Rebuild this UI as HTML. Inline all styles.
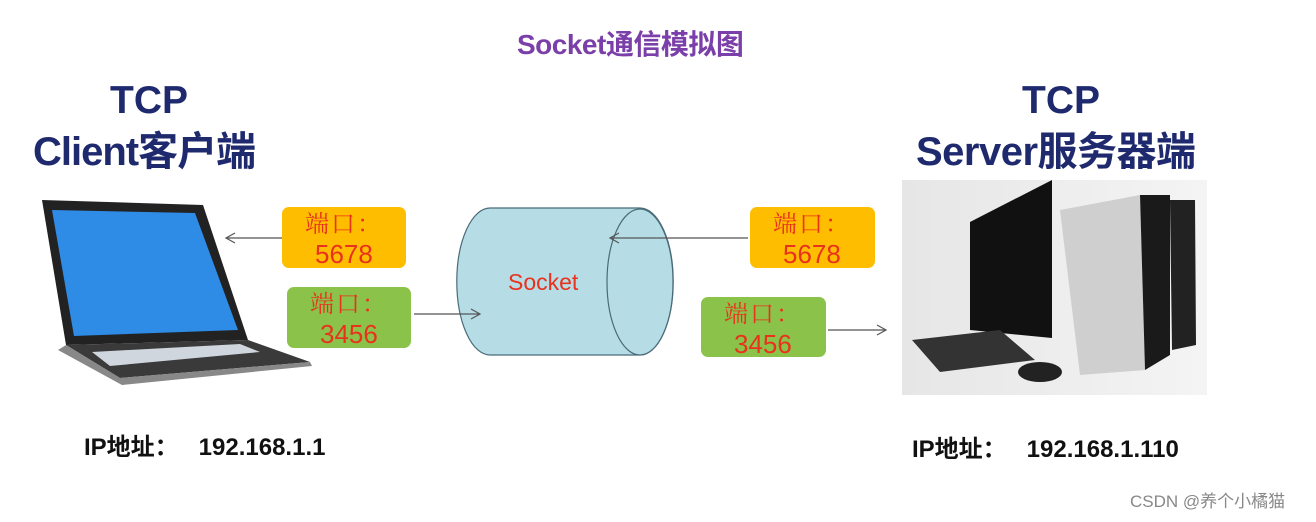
<!DOCTYPE html>
<html><head><meta charset="utf-8"><style>
body{margin:0;width:1316px;height:522px;background:#fff;overflow:hidden;position:relative;font-family:"Liberation Sans","Noto Sans CJK SC",sans-serif}
.t{position:absolute;white-space:nowrap;line-height:1.15}
.p{font-size:24px;color:#e8321e;font-family:'Noto Serif CJK SC',serif;letter-spacing:2px}
</style></head><body>
<svg width="1316" height="522" style="position:absolute;left:0;top:0">
<defs>
<linearGradient id="sv" x1="0" x2="1"><stop offset="0" stop-color="#e6e6e6"/><stop offset="1" stop-color="#f4f4f4"/></linearGradient>
<marker id="a" markerWidth="12" markerHeight="12" refX="10" refY="6" orient="auto" markerUnits="userSpaceOnUse"><path d="M1,1 L10,6 L1,11" fill="none" stroke="#555" stroke-width="1.2"/></marker>
</defs>
<polygon points="42,200 203,205 248,340 66,345" fill="#222"/>
<polygon points="52,210 195,213 238,330 74,336" fill="#2e8be6"/>
<polygon points="66,345 248,340 310,362 120,378" fill="#3a3a3a"/>
<polygon points="92,352 240,344 260,352 110,366" fill="#cfd6de"/>
<polygon points="58,350 66,345 120,378 310,362 312,366 122,385" fill="#888"/>
<path d="M490,208 L640,208 A33,73 0 0 1 640,355 L490,355 A33,73 0 0 1 490,208 Z" fill="#b6dde6" stroke="#4a6b78" stroke-width="1.2"/>
<ellipse cx="640" cy="282" rx="33" ry="73" fill="#b6dde6" stroke="#4a6b78" stroke-width="1.2"/>
<rect x="902" y="180" width="305" height="215" fill="url(#sv)"/>
<polygon points="970,222 1052,180 1052,338 970,330" fill="#111"/>
<polygon points="1060,210 1140,195 1145,370 1080,375" fill="#cfcfcf"/>
<polygon points="1140,195 1170,195 1170,355 1145,370" fill="#1a1a1a"/>
<polygon points="1170,200 1195,200 1196,345 1172,350" fill="#222"/>
<polygon points="912,340 1000,330 1035,360 940,372" fill="#333"/>
<ellipse cx="1040" cy="372" rx="22" ry="10" fill="#222"/>
<rect x="282" y="207" width="124" height="61" rx="7" fill="#ffbd00"/>
<rect x="287" y="287" width="124" height="61" rx="7" fill="#8bc34a"/>
<rect x="750" y="207" width="125" height="61" rx="7" fill="#ffbd00"/>
<rect x="701" y="297" width="125" height="60" rx="7" fill="#8bc34a"/>
<line x1="282" y1="238" x2="226" y2="238" stroke="#555" stroke-width="1.2" marker-end="url(#a)"/>
<line x1="414" y1="314" x2="480" y2="314" stroke="#555" stroke-width="1.2" marker-end="url(#a)"/>
<line x1="748" y1="238" x2="610" y2="238" stroke="#555" stroke-width="1.2" marker-end="url(#a)"/>
<line x1="828" y1="330" x2="886" y2="330" stroke="#555" stroke-width="1.2" marker-end="url(#a)"/>
</svg>
<div class="t" style="left:517px;top:29px;font-size:28px;font-weight:bold;color:#7a3fa8;letter-spacing:-0.5px">Socket通信模拟图</div>
<div class="t" style="left:110px;top:79px;font-size:39px;font-weight:bold;color:#1f2a6e">TCP</div>
<div class="t" style="left:33px;top:129px;font-size:40px;font-weight:bold;color:#1f2a6e;letter-spacing:-1px">Client客户端</div>
<div class="t" style="left:1022px;top:79px;font-size:39px;font-weight:bold;color:#1f2a6e">TCP</div>
<div class="t" style="left:916px;top:129px;font-size:40px;font-weight:bold;color:#1f2a6e;letter-spacing:-0.5px">Server服务器端</div>
<div class="t p" style="left:305px;top:208px">端口：</div>
<div class="t" style="left:315px;top:240px;font-size:26px;color:#e8321e">5678</div>
<div class="t p" style="left:310px;top:288px">端口：</div>
<div class="t" style="left:320px;top:320px;font-size:26px;color:#e8321e">3456</div>
<div class="t p" style="left:773px;top:208px">端口：</div>
<div class="t" style="left:783px;top:240px;font-size:26px;color:#e8321e">5678</div>
<div class="t p" style="left:724px;top:298px">端口：</div>
<div class="t" style="left:734px;top:330px;font-size:26px;color:#e8321e">3456</div>
<div class="t" style="left:508px;top:269px;font-size:23px;color:#e8321e">Socket</div>
<div class="t" style="left:84px;top:434px;font-size:24px;font-weight:bold;color:#111">IP地址：&nbsp;&nbsp; 192.168.1.1</div>
<div class="t" style="left:912px;top:436px;font-size:24px;font-weight:bold;color:#111">IP地址：&nbsp;&nbsp; 192.168.1.110</div>
<div class="t" style="left:1130px;top:492px;font-size:17px;color:#888">CSDN @养个小橘猫</div>
</body></html>
